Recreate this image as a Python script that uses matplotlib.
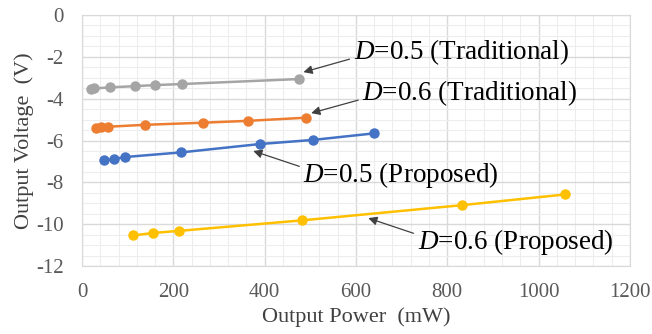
import matplotlib.pyplot as plt
from matplotlib.ticker import MultipleLocator

plt.rcParams['font.family'] = ['Liberation Serif', 'DejaVu Serif']
plt.rcParams['mathtext.fontset'] = 'custom'
plt.rcParams['mathtext.rm'] = 'Liberation Serif'
plt.rcParams['mathtext.it'] = 'Liberation Serif:italic'
plt.rcParams['axes.unicode_minus'] = False

# Output power (mW) and output voltage (V) for each case
trad05_p = [19, 26, 61, 116, 160, 218, 476]
trad05_v = [-3.54, -3.51, -3.46, -3.40, -3.35, -3.30, -3.06]
trad06_p = [30, 42, 58, 137, 264, 363, 490]
trad06_v = [-5.39, -5.36, -5.34, -5.25, -5.15, -5.06, -4.91]
prop05_p = [48, 69, 94, 216, 389, 507, 639]
prop05_v = [-6.94, -6.90, -6.79, -6.57, -6.17, -5.97, -5.66]
prop06_p = [112, 156, 213, 481, 833, 1058]
prop06_v = [-10.54, -10.42, -10.32, -9.82, -9.09, -8.58]

fig = plt.figure(figsize=(6.52, 3.34), dpi=100)
ax = fig.add_axes([0.1258, 0.2036, 0.8402, 0.7514])

ax.plot(trad05_p, trad05_v, '-o', color='#A5A5A5', lw=1.8, ms=6.5, zorder=3)
ax.plot(trad06_p, trad06_v, '-o', color='#ED7D31', lw=1.8, ms=6.5, zorder=3)
ax.plot(prop05_p, prop05_v, '-o', color='#4472C4', lw=1.8, ms=6.5, zorder=3)
ax.plot(prop06_p, prop06_v, '-o', color='#FFC000', lw=1.8, ms=6.5, zorder=3)

ax.set_xlim(0, 1200)
ax.set_ylim(-12, 0)
ax.xaxis.set_major_locator(MultipleLocator(200))
ax.xaxis.set_minor_locator(MultipleLocator(40))
ax.yaxis.set_major_locator(MultipleLocator(2))
ax.yaxis.set_minor_locator(MultipleLocator(0.5))
ax.grid(which='major', color='#D9D9D9', lw=1.0, zorder=0)
ax.grid(which='minor', color='#EDEDED', lw=0.8, zorder=0)
ax.set_axisbelow(True)
ax.tick_params(which='both', length=0, labelsize=15, labelcolor='#595959')
ax.tick_params(axis='x', pad=12)
ax.tick_params(axis='y', pad=13)
for s in ax.spines.values():
    s.set_color('#D9D9D9')

ax.set_xlabel('Output Power  (mW)', fontsize=16, color='#404040', labelpad=4)
ax.set_ylabel('Output Voltage  (V)', fontsize=16, color='#404040', labelpad=2)

arrow = dict(arrowstyle='-|>', color='#404040', lw=0.9, mutation_scale=13,
             shrinkA=1, shrinkB=0)
notes = [
    ('$\\mathit{D}$=0.5 (Traditional)', (485, -2.73), (595, -1.77), (0, 0.3)),
    ('$\\mathit{D}$=0.6 (Traditional)', (502, -4.69), (614, -3.73), (0, 0.3)),
    ('$\\mathit{D}$=0.5 (Proposed)', (375, -6.5), (485, -7.66), (0, 0.75)),
    ('$\\mathit{D}$=0.6 (Proposed)', (627, -9.71), (735, -10.86), (0, 0.75)),
]
for txt, xy, xytext, rp in notes:
    ax.annotate(txt, xy=xy, xytext=xytext, fontsize=19.5, color='black',
                ha='left', va='center', arrowprops=dict(arrow, relpos=rp))

fig.savefig('out.png', dpi=100)
